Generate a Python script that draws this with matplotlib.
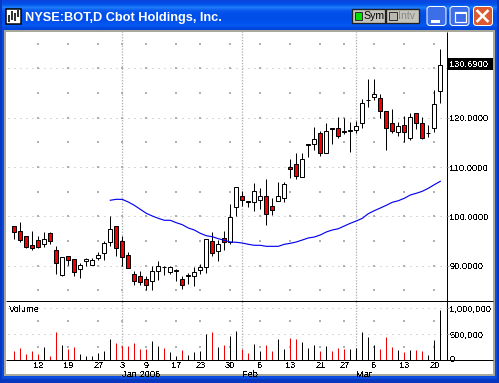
import numpy as np
import matplotlib
matplotlib.use("Agg")
import matplotlib.pyplot as plt
from matplotlib.patches import Rectangle, FancyBboxPatch
from matplotlib.transforms import blended_transform_factory

W, H = 499, 383
PX = 0.72  # one pixel in points at dpi 100

plt.rcParams["text.antialiased"] = False

opens = [97.97, 96.96, 95.94, 94.19, 95.13, 94.32, 96.55, 93.10, 88.03, 91.89, 91.28, 89.25,
         90.87, 90.20, 91.62, 92.50, 94.73, 97.97, 94.93, 92.09, 88.24, 87.83, 87.22, 86.95,
         88.85, 89.79, 88.78, 88.85, 87.22, 87.83, 87.97, 89.18, 89.66, 94.93, 93.04, 95.54,
         94.73, 101.83, 104.12, 103.04, 102.84, 103.38, 104.06, 102.03, 103.18, 103.79, 109.94, 110.55,
         108.04, 114.53, 114.73, 116.96, 112.83, 117.97, 117.97, 117.36, 117.36, 117.57, 118.99, 123.52,
         124.19, 124.06, 121.42, 118.99, 117.16, 118.58, 115.94, 121.01, 118.99, 116.82, 117.97, 125.48]
closes = [96.89, 95.13, 93.85, 93.65, 93.85, 95.34, 94.93, 90.60, 91.69, 91.21, 88.78, 90.06,
          91.28, 91.08, 92.09, 94.52, 97.36, 93.65, 91.82, 89.59, 86.95, 86.75, 86.14, 88.85,
          89.86, 89.66, 89.66, 89.05, 86.14, 88.03, 88.64, 89.66, 95.34, 92.63, 94.32, 94.86,
          99.80, 105.88, 103.38, 102.91, 105.07, 104.06, 100.54, 101.35, 104.06, 106.49, 109.67, 108.25,
          111.56, 114.74, 115.74, 112.90, 117.36, 117.77, 116.35, 117.09, 117.57, 118.38, 123.04, 123.65,
          124.87, 121.42, 117.97, 117.36, 118.38, 117.16, 120.20, 118.99, 115.94, 116.96, 122.84, 130.69]
highs = [97.97, 98.85, 95.94, 97.03, 96.01, 96.89, 96.89, 93.98, 91.82, 91.96, 91.35, 90.54,
         91.48, 91.48, 92.70, 95.07, 100.00, 97.97, 96.01, 92.70, 88.91, 88.91, 87.83, 89.86,
         90.94, 89.86, 89.86, 89.25, 87.83, 88.44, 89.66, 90.33, 95.47, 96.82, 95.13, 97.03,
         102.57, 105.88, 105.14, 103.04, 106.76, 105.68, 107.50, 103.65, 106.96, 106.90, 111.63, 112.84,
         112.84, 114.74, 118.04, 117.30, 118.99, 117.97, 120.07, 119.86, 119.05, 119.32, 123.85, 127.91,
         127.91, 124.87, 121.42, 121.83, 119.12, 120.34, 121.01, 121.01, 120.20, 118.45, 125.61, 133.99]
lows = [95.47, 94.86, 93.65, 93.24, 93.65, 93.78, 94.46, 88.37, 87.97, 90.13, 87.90, 87.56,
        89.86, 90.20, 91.21, 91.14, 94.05, 91.96, 89.93, 89.59, 86.14, 86.14, 85.06, 85.06,
        87.16, 88.17, 88.24, 86.89, 85.26, 86.28, 85.87, 88.37, 88.58, 91.96, 90.94, 93.24,
        94.39, 100.07, 102.03, 101.83, 101.08, 101.49, 98.24, 100.27, 103.18, 102.91, 107.77, 107.57,
        108.04, 112.03, 113.38, 112.16, 112.83, 114.73, 115.94, 116.76, 112.97, 116.96, 117.97, 122.16,
        123.52, 119.93, 113.38, 116.89, 116.21, 115.07, 115.54, 117.77, 115.74, 116.15, 117.09, 122.97]
volumes = [179, 237, 122, 179, 122, 256, 83, 545, 295, 218, 256, 122,
           83, 83, 141, 179, 410, 333, 276, 276, 333, 218, 218, 372,
           276, 237, 160, 83, 199, 103, 160, 179, 506, 545, 256, 295,
           468, 564, 218, 141, 314, 179, 295, 179, 410, 218, 429, 410,
           353, 237, 295, 179, 276, 179, 237, 218, 218, 237, 545, 449,
           295, 218, 449, 256, 199, 160, 199, 199, 179, 103, 391, 968]
volumes = [v * 1000 for v in volumes]

ma_start = 16
ma_values = [103.25, 103.45, 103.43, 102.90, 102.23, 101.42, 100.61, 100.06, 99.59, 99.19, 99.19, 98.70,
             98.30, 97.63, 97.22, 96.55, 96.06, 95.86, 95.46, 95.13, 94.79, 94.73, 94.58, 94.32,
             94.12, 94.12, 93.91, 93.91, 93.91, 94.32, 94.52, 94.79, 95.19, 95.60, 95.80, 96.21,
             96.82, 97.22, 97.48, 98.03, 98.58, 99.05, 99.59, 100.53, 101.14, 101.68, 102.23, 102.84,
             103.16, 103.65, 104.32, 104.67, 105.07, 105.68, 106.41, 107.10]

week_pos = [4, 9, 14, 18, 22, 27, 31, 36, 41, 46, 51, 55, 60, 65, 70]
week_labels = ["12", "19", "27", "3", "9", "17", "23", "30", "6", "13", "21", "27", "6", "13", "20"]
month_pos = [18, 38, 57]
month_labels = ["Jan 2006", "Feb", "Mar"]
price_ticks = [90, 100, 110, 120, 130]
price_minor = [85, 90, 95, 100, 105, 110, 115, 120, 125, 130, 135]
vol_ticks = [0, 500000, 1000000]
vol_labels = ["0", "500,000", "1,000,000"]
vol_minor = [250000, 750000]
last_price = 130.69

GRID = "#b0b0b0"
RED = "#f00000"
TEXT = dict(family="Liberation Sans", fontsize=6.7, color="black")


def px_axes(fig, left, top, right, bottom):
    return fig.add_axes([left / W, 1 - bottom / H, (right - left) / W, (bottom - top) / H])


def draw_window(fig):
    bg = fig.add_axes([0, 0, 1, 1], zorder=0)
    bg.set_xlim(0, W)
    bg.set_ylim(H, 0)
    bg.axis("off")

    # blue frame and title bar
    bg.add_patch(Rectangle((0, 0), W, H, fc="#0a4be0", ec="none"))
    grad = np.array([[10, 70, 225], [0, 85, 235], [30, 125, 250], [10, 90, 240], [0, 80, 235],
                     [0, 78, 232], [0, 78, 232], [0, 82, 238], [5, 88, 240], [0, 70, 220]]) / 255
    bg.imshow(grad[:, None, :], extent=(0, W, 30, 0), aspect="auto", interpolation="bilinear", zorder=1)
    bg.set_xlim(0, W)
    bg.set_ylim(H, 0)
    bg.add_patch(Rectangle((0, 0), 2, H, fc="#0838c0", ec="none", zorder=1))
    bg.add_patch(Rectangle((W - 2, 0), 2, H, fc="#0838c0", ec="none", zorder=1))
    bg.add_patch(Rectangle((0, 379), W, 4, fc="#0838c0", ec="none", zorder=1))

    # grey client edge and white client area
    bg.add_patch(Rectangle((4, 30), 491, 346, fc="#a8a89c", ec="none", zorder=2))
    bg.add_patch(Rectangle((6, 32), 487, 342, fc="white", ec="none", zorder=2))

    # title icon
    bg.add_patch(Rectangle((6.5, 8.5), 15, 15, fc="white", ec="black", lw=PX * 1.5, zorder=3))
    for x, y0, y1 in [(9, 15, 22), (12, 11, 20), (15, 13, 21), (18, 10, 17)]:
        bg.plot([x, x], [y0, y1], color="black", lw=PX * 1.6, zorder=4, solid_capstyle="butt")

    bg.text(25, 17.5, "NYSE:BOT,D Cbot Holdings, Inc.", color="white", family="Liberation Sans",
            weight="bold", fontsize=9.2, va="center", ha="left", zorder=4, antialiased=True)

    # Sym / Intv buttons
    for x0, x1, label, col, tcol in [(352, 385.5, "Sym", "#00e000", "black"), (386.5, 419, "Intv", "#b8b8b0", "#888888")]:
        bg.add_patch(Rectangle((x0, 9), x1 - x0, 14, fc="#c4c4bc", ec="#202020", lw=PX * 1.3, zorder=3))
        bg.add_patch(Rectangle((x0 + 3, 11.5), 7.5, 8.5, fc=col, ec="#303030", lw=PX, zorder=4))
        bg.text(x0 + 11.5, 16.2, label, color=tcol, family="Liberation Sans", fontsize=7.6, va="center",
                zorder=4, antialiased=True)

    # minimise, maximise, close
    for x0, fc in [(426, "#3c6ee8"), (449, "#3c6ee8"), (472.5, "#dc5a30")]:
        bg.add_patch(FancyBboxPatch((x0 + 1, 6.5), 19, 19, boxstyle="round,pad=0,rounding_size=3",
                                    fc=fc, ec="white", lw=PX, zorder=3))
    bg.add_patch(Rectangle((431, 19.5), 9, 3, fc="white", ec="none", zorder=4))
    bg.add_patch(Rectangle((455, 11.5), 11, 10, fc="none", ec="white", lw=PX * 1.2, zorder=4))
    bg.add_patch(Rectangle((455, 11.5), 11, 2.5, fc="white", ec="none", zorder=4))
    bg.plot([477.5, 487.5], [11, 21], color="white", lw=PX * 2.6, zorder=4)
    bg.plot([477.5, 487.5], [21, 11], color="white", lw=PX * 2.6, zorder=4)

    # panel frame lines
    for xs, ys in [([6, 493], [301.3, 301.3]), ([6, 493], [360.3, 360.3]), ([447.3, 447.3], [32, 360.3])]:
        bg.plot(xs, ys, color="black", lw=PX, zorder=4, solid_capstyle="butt", snap=True)
    return bg


def draw_price(ax):
    n = len(opens)
    x = np.arange(n)
    ax.hlines(price_ticks, -2, 73, color=GRID, lw=PX, linestyles=[(0, (1, 5))], zorder=1, snap=True)
    ax.vlines(month_pos, 0, 200, color=GRID, lw=PX * 1.3, linestyles=[(0, (1, 1.2))], zorder=1, snap=True)
    xs, ys = np.meshgrid(week_pos, price_minor)
    ax.scatter(xs.ravel(), ys.ravel(), s=0.7, marker="s", color=GRID, linewidths=0, zorder=1)

    ax.vlines(x, lows, highs, color="black", lw=PX, zorder=2, snap=True)
    for i in range(n):
        fill = RED if closes[i] < opens[i] else "white"
        ax.bar(i, abs(closes[i] - opens[i]), 0.667, bottom=min(opens[i], closes[i]),
               fc=fill, ec="black", lw=PX, zorder=3, snap=True)
    ax.plot(x[ma_start:], ma_values, color="#0000f0", lw=PX * 1.15, zorder=4)


def draw_volume(ax):
    x = np.arange(len(volumes))
    ax.hlines([500000, 1000000], -2, 73, color=GRID, lw=PX, linestyles=[(0, (1, 5))], zorder=1, snap=True)
    ax.vlines(month_pos, 0, 2000000, color=GRID, lw=PX * 1.3, linestyles=[(0, (1, 1.2))], zorder=1, snap=True)
    xs, ys = np.meshgrid(week_pos, vol_minor)
    ax.scatter(xs.ravel(), ys.ravel(), s=0.7, marker="s", color=GRID, linewidths=0, zorder=1)
    cols = [RED if c < o else "black" for o, c in zip(opens, closes)]
    ax.vlines(x, 0, volumes, colors=cols, lw=PX, zorder=2, snap=True)


def main():
    fig = plt.figure(figsize=(W / 100, H / 100), dpi=100)
    bg = draw_window(fig)

    xlim = ((6 - 14.3) / 6, (447.3 - 14.3) / 6)

    ax = px_axes(fig, 6, 32, 447.3, 301.3)
    ax.set_zorder(2)
    ax.patch.set_visible(False)
    draw_price(ax)
    ax.set_xlim(xlim)
    ax.set_ylim(100 + (216.3 - 301.3) / 4.93, 100 + (216.3 - 32) / 4.93)
    for s in ax.spines.values():
        s.set_visible(False)
    ax.set_xticks([])
    ax.yaxis.tick_right()
    ax.set_yticks(price_ticks)
    # 130 sits under the last price flag in the reference
    ax.set_yticklabels(["%.4f" % p if p != 130 else "" for p in price_ticks], **TEXT)
    ax.tick_params(axis="y", length=1.4, width=PX, pad=0.2, color=GRID)

    # last price flag
    trans = blended_transform_factory(ax.transAxes, ax.transData)
    ax.add_patch(Rectangle((1.0, last_price - 1.04), 45.7 / 441.3, 2.43, transform=trans, fc="black",
                           ec="none", clip_on=False, zorder=6))
    ax.text(1.005, last_price + 0.18, "%.4f" % last_price, transform=trans, color="white", va="center", ha="left",
            family="Liberation Sans", fontsize=6.7, zorder=7)

    vax = px_axes(fig, 6, 301.3, 447.3, 360.3)
    vax.set_zorder(2)
    vax.patch.set_visible(False)
    draw_volume(vax)
    vax.set_xlim(xlim)
    vax.set_ylim(0, (360.3 - 301.3) / 26 * 500000)
    for s in vax.spines.values():
        s.set_visible(False)
    vax.yaxis.tick_right()
    vax.set_yticks(vol_ticks[1:])
    vax.set_yticklabels(vol_labels[1:], **TEXT)
    vax.tick_params(axis="y", length=1.4, width=PX, pad=0.2, color=GRID)
    vax.set_xticks(week_pos)
    vax.set_xticklabels(week_labels, **TEXT)
    vax.tick_params(axis="x", length=0, pad=0.4)
    vax.text(0.006, 0.865, "Volume", transform=vax.transAxes, va="center", ha="left", **TEXT)

    # month names sit under the week numbers
    mtrans = blended_transform_factory(vax.transData, vax.transAxes)
    for pos, lab in zip(month_pos, month_labels):
        vax.text(pos, -0.235, lab, transform=mtrans, va="center", ha="left", clip_on=False, **TEXT)

    # the zero label is cut by the baseline in the reference
    zero = bg.text(449.5, 359.5, vol_labels[0], va="center", ha="left", zorder=3, **TEXT)
    zero.set_clip_path(Rectangle((447, 350), 20, 10, transform=bg.transData))

    fig.savefig("out.png", dpi=100)


if __name__ == "__main__":
    main()
